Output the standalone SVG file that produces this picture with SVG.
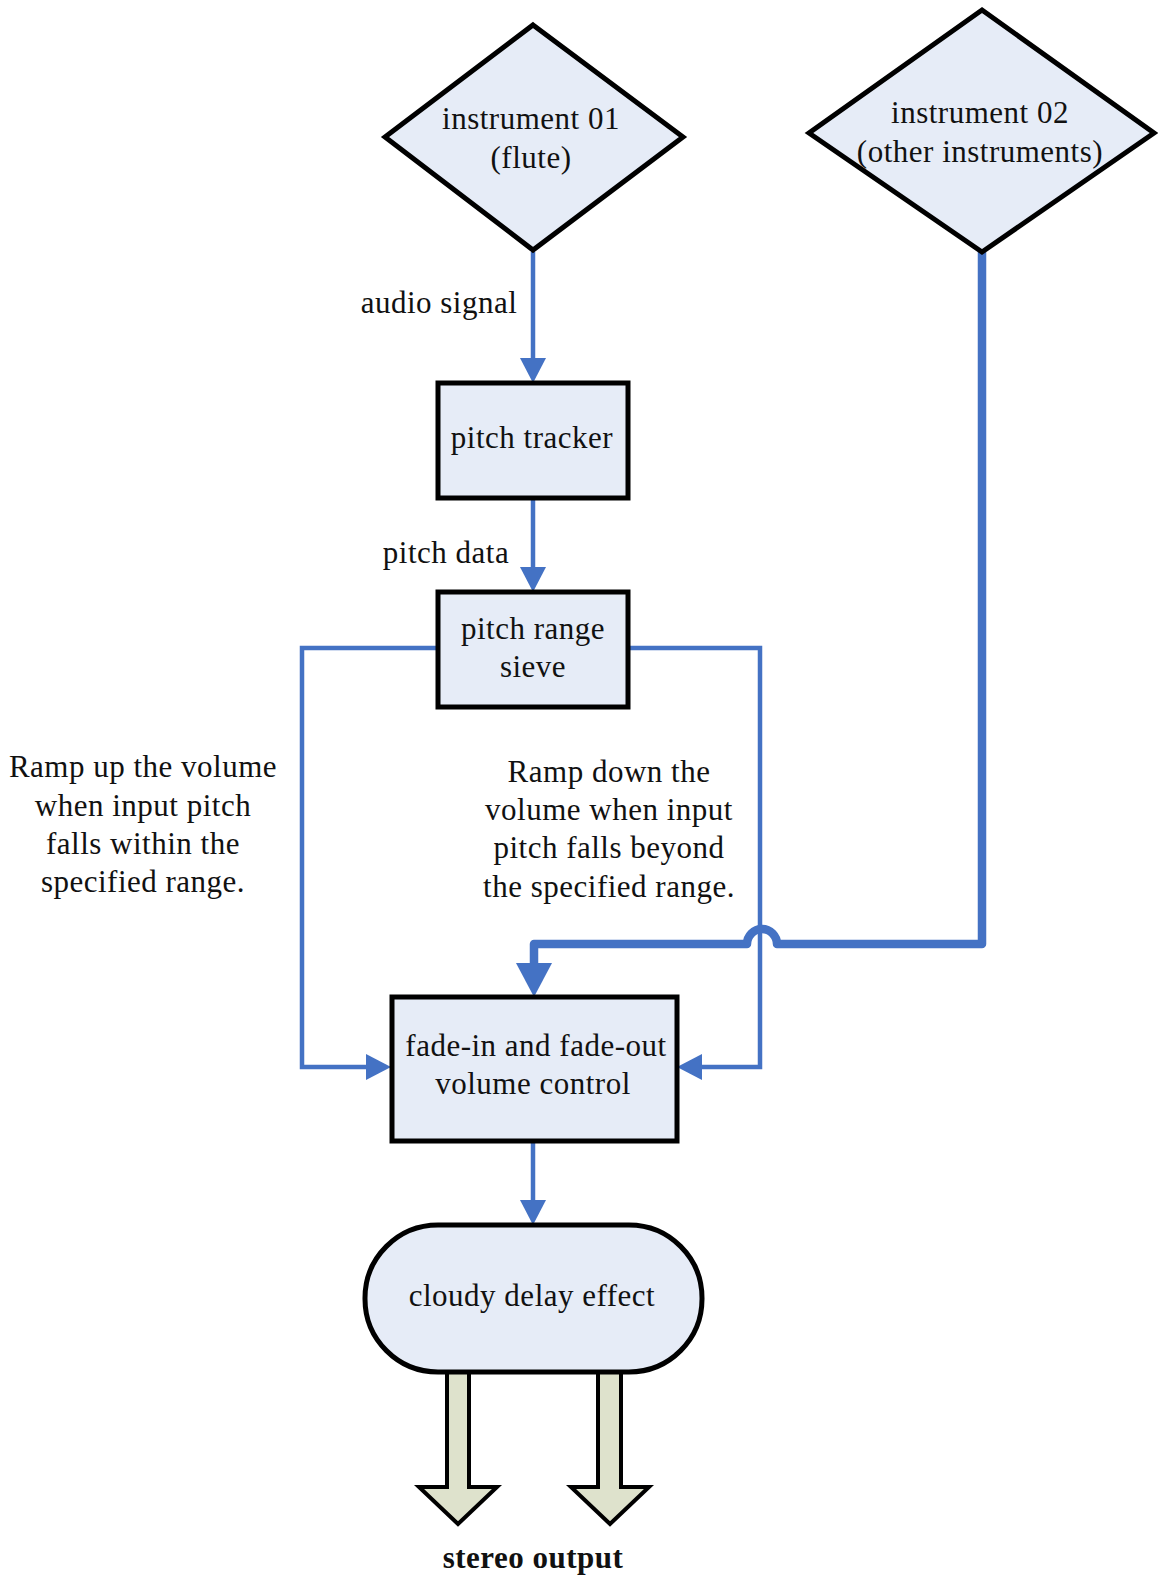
<svg xmlns="http://www.w3.org/2000/svg" width="1158" height="1579" viewBox="0 0 1158 1579">
<style>
.node{fill:#E6ECF7;stroke:#000;stroke-width:5;stroke-linejoin:miter}
.t{font-family:"Liberation Serif","Times New Roman",serif;font-size:31px;letter-spacing:0.5px;fill:#111;text-anchor:middle}
.tb{font-weight:bold}
.c{fill:none;stroke:#4472C4;stroke-width:4.5;stroke-linejoin:miter}
.ck{fill:none;stroke:#4472C4;stroke-width:8.5;stroke-linejoin:round}
.out{fill:#DEE2CC;stroke:#000;stroke-width:4;stroke-linejoin:miter}
</style>
<defs>
<marker id="ah" markerUnits="userSpaceOnUse" markerWidth="26" markerHeight="26" refX="12" refY="13" orient="auto" viewBox="0 0 26 26">
<path d="M0,0 L25,13 L0,26 z" fill="#4472C4"/>
</marker>
<marker id="ahb" markerUnits="userSpaceOnUse" markerWidth="34" markerHeight="36" refX="16" refY="18" orient="auto" viewBox="0 0 34 36">
<path d="M0,0 L34,18 L0,36 z" fill="#4472C4"/>
</marker>
</defs>
<rect width="1158" height="1579" fill="#fff"/>

<g id="connectors">
<path class="c" d="M533,252 V370" marker-end="url(#ah)"/>
<path class="c" d="M533,498 V579" marker-end="url(#ah)"/>
<path class="c" d="M438,648 H302 V1067 H378" marker-end="url(#ah)"/>
<path class="c" d="M629,648 H760 V1067 H690" marker-end="url(#ah)"/>
<path class="ck" d="M982,252 V944 H777 A15,15 0 0 0 747,944 H534 V979" marker-end="url(#ahb)"/>
<path class="c" d="M533,1141 V1212" marker-end="url(#ah)"/>
</g>

<g id="instrument01">
<polygon class="node" points="533,25 683,137 533,250 385,137"/>
<text class="t" x="531" y="129">instrument 01</text>
<text class="t" x="531" y="168">(flute)</text>
</g>

<g id="instrument02">
<polygon class="node" points="982,10 1154,133 982,252 809,133"/>
<text class="t" x="980" y="123">instrument 02</text>
<text class="t" x="980" y="162">(other instruments)</text>
</g>

<g id="label-audio">
<text class="t" x="439" y="313">audio signal</text>
</g>
<g id="label-pitchdata">
<text class="t" x="446" y="563">pitch data</text>
</g>

<g id="pitch-tracker">
<rect class="node" x="438" y="383" width="190" height="115"/>
<text class="t" x="532" y="448">pitch tracker</text>
</g>

<g id="pitch-range-sieve">
<rect class="node" x="438" y="592" width="190" height="115"/>
<text class="t" x="533" y="639">pitch range</text>
<text class="t" x="533" y="677">sieve</text>
</g>

<g id="label-rampup">
<text class="t" x="143" y="777">Ramp up the volume</text>
<text class="t" x="143" y="816">when input pitch</text>
<text class="t" x="143" y="854">falls within the</text>
<text class="t" x="143" y="892">specified range.</text>
</g>

<g id="label-rampdown">
<text class="t" x="609" y="782">Ramp down the</text>
<text class="t" x="609" y="820">volume when input</text>
<text class="t" x="609" y="858">pitch falls beyond</text>
<text class="t" x="609" y="897">the specified range.</text>
</g>

<g id="fade-control">
<rect class="node" x="392" y="997" width="285" height="144"/>
<text class="t" x="536" y="1056">fade-in and fade-out</text>
<text class="t" x="533" y="1094">volume control</text>
</g>

<g id="stereo-arrows">
<polygon class="out" points="447,1372 447,1487 419,1487 458,1524 497,1487 469,1487 469,1372"/>
<polygon class="out" points="598,1372 598,1487 571,1487 610,1524 649,1487 621,1487 621,1372"/>
</g>

<g id="cloudy-delay">
<rect class="node" x="365" y="1225" width="337" height="147" rx="73" ry="73"/>
<text class="t" x="532" y="1306">cloudy delay effect</text>
</g>

<g id="label-stereo">
<text class="t tb" x="533" y="1568">stereo output</text>
</g>
</svg>
